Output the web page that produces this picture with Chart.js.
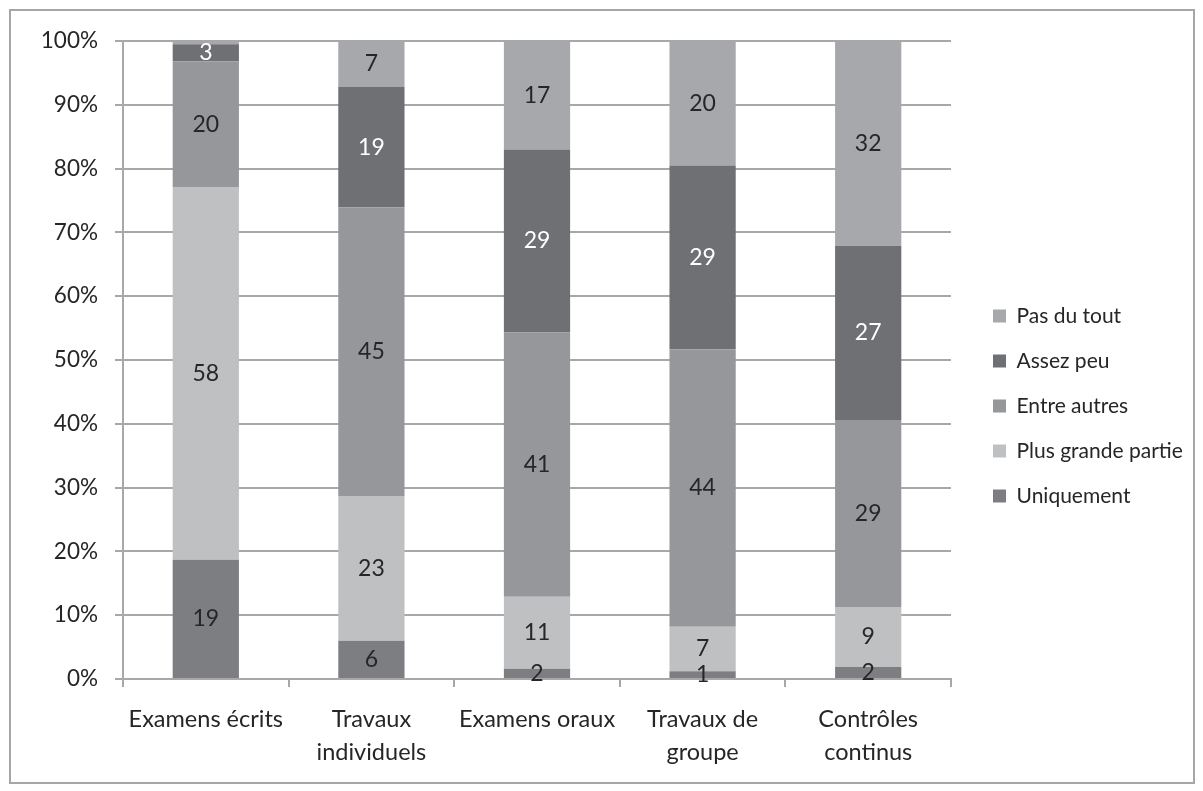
<!DOCTYPE html>
<html><head><meta charset="utf-8">
<script src="https://cdn.jsdelivr.net/npm/chart.js@4.4.1/dist/chart.umd.min.js"></script>
<style>html,body{margin:0;padding:0;background:#fff;overflow:hidden;} #wrap{position:relative;width:1203px;height:791px;}</style>
</head><body><div id="wrap"><canvas id="c" width="1203" height="791"></canvas></div>
<script>
const categories = ['Examens écrits', ['Travaux', 'individuels'], 'Examens oraux', ['Travaux de', 'groupe'], ['Contrôles', 'continus']];
const seriesNames = ['Uniquement', 'Plus grande partie', 'Entre autres', 'Assez peu', 'Pas du tout'];
const uniquement = [18.7, 6.0, 1.6, 1.2, 1.9];
const plusGrandePartie = [58.4, 22.7, 11.3, 7.0, 9.4];
const entreAutres = [19.7, 45.2, 41.4, 43.5, 29.3];
const assezPeu = [2.7, 18.9, 28.7, 28.8, 27.3];
const pasDuTout = [0.5, 7.2, 17.0, 19.5, 32.1];
const yTickValues = [0, 10, 20, 30, 40, 50, 60, 70, 80, 90, 100];

const seriesValues = [uniquement, plusGrandePartie, entreAutres, assezPeu, pasDuTout];
const seriesColors = ['#7d7e82', '#bfc0c2', '#96979b', '#6f7074', '#a7a8ab'];
const labelColors = ['#262626', '#262626', '#262626', '#ffffff', '#262626'];
const FONT = 'Lato, "Open Sans", sans-serif';
const GRID = '#a8a8a8';

const W = 1203, H = 791;
const PLOT_LEFT = 123, PLOT_BOTTOM = 679, PLOT_RIGHT = 951;
const PAD = {left: 12, top: 41, right: 10, bottom: 20};
const GAP_RIGHT = 18;
const LEGEND_W = W - PAD.right - GAP_RIGHT - PLOT_RIGHT;

const borderPlugin = {
  id: 'outerBorder',
  beforeUpdate(chart) {
    const lg = chart.legend;
    if (lg && !lg._fixedW) {
      const f = lg.fit;
      lg.fit = function () { f.call(this); this.width = LEGEND_W; };
      lg._fixedW = true;
    }
  },
  beforeDraw(chart) {
    const ctx = chart.ctx;
    ctx.save();
    ctx.fillStyle = '#ffffff';
    ctx.fillRect(0, 0, chart.width, chart.height);
    ctx.strokeStyle = '#a6a6a6';
    ctx.lineWidth = 2;
    ctx.strokeRect(10, 10, 1184, 773);
    ctx.restore();
  }
};

const valueLabels = {
  id: 'valueLabels',
  afterDatasetsDraw(chart) {
    const ctx = chart.ctx;
    ctx.save();
    ctx.font = '23px ' + FONT;
    ctx.textAlign = 'center';
    ctx.textBaseline = 'middle';
    chart.data.datasets.forEach((ds, di) => {
      const meta = chart.getDatasetMeta(di);
      meta.data.forEach((el, i) => {
        const v = ds.data[i];
        if (v < 1) return;
        const p = el.getProps(['x', 'y', 'base'], true);
        ctx.fillStyle = labelColors[di];
        ctx.fillText(String(Math.round(v)), p.x, (p.y + p.base) / 2);
      });
    });
    ctx.restore();
  }
};

new Chart(document.getElementById('c'), {
  type: 'bar',
  data: {
    labels: categories,
    datasets: seriesNames.map((name, i) => ({
      label: name,
      data: seriesValues[i],
      backgroundColor: seriesColors[i],
      borderWidth: 0,
      categoryPercentage: 1.0,
      barPercentage: 0.4
    }))
  },
  options: {
    responsive: false,
    animation: false,
    devicePixelRatio: 1,
    layout: {padding: PAD},
    plugins: {
      tooltip: {enabled: false},
      legend: {
        position: 'right',
        reverse: true,
        labels: {
          boxWidth: 13,
          boxHeight: 13,
          padding: 24,
          color: '#262626',
          font: {family: FONT, size: 21}
        }
      }
    },
    scales: {
      x: {
        stacked: true,
        grid: {display: true, offset: true, drawOnChartArea: false, drawTicks: true, tickLength: 8, color: GRID, lineWidth: 2},
        border: {display: true, color: GRID, width: 2},
        ticks: {color: '#262626', font: {family: FONT, size: 23.5, lineHeight: 1.4}, autoSkip: false, maxRotation: 0, padding: 16},
        afterFit(s) { s.height = H - PAD.bottom - PLOT_BOTTOM; }
      },
      y: {
        stacked: true,
        min: 0,
        max: 100,
        afterBuildTicks(s) { s.ticks = yTickValues.map(v => ({value: v})); },
        grid: {color: GRID, lineWidth: 2, tickLength: 8, drawTicks: true},
        border: {display: true, color: GRID, width: 2},
        ticks: {color: '#262626', font: {family: FONT, size: 22.5}, padding: 17, callback: v => v + '%'},
        afterFit(s) { s.width = PLOT_LEFT - PAD.left; }
      },
      yR: {
        position: 'right',
        display: true,
        grid: {display: false},
        border: {display: false},
        ticks: {display: false},
        afterFit(s) { s.width = GAP_RIGHT; }
      }
    }
  },
  plugins: [borderPlugin, valueLabels]
});
</script>
</body></html>
